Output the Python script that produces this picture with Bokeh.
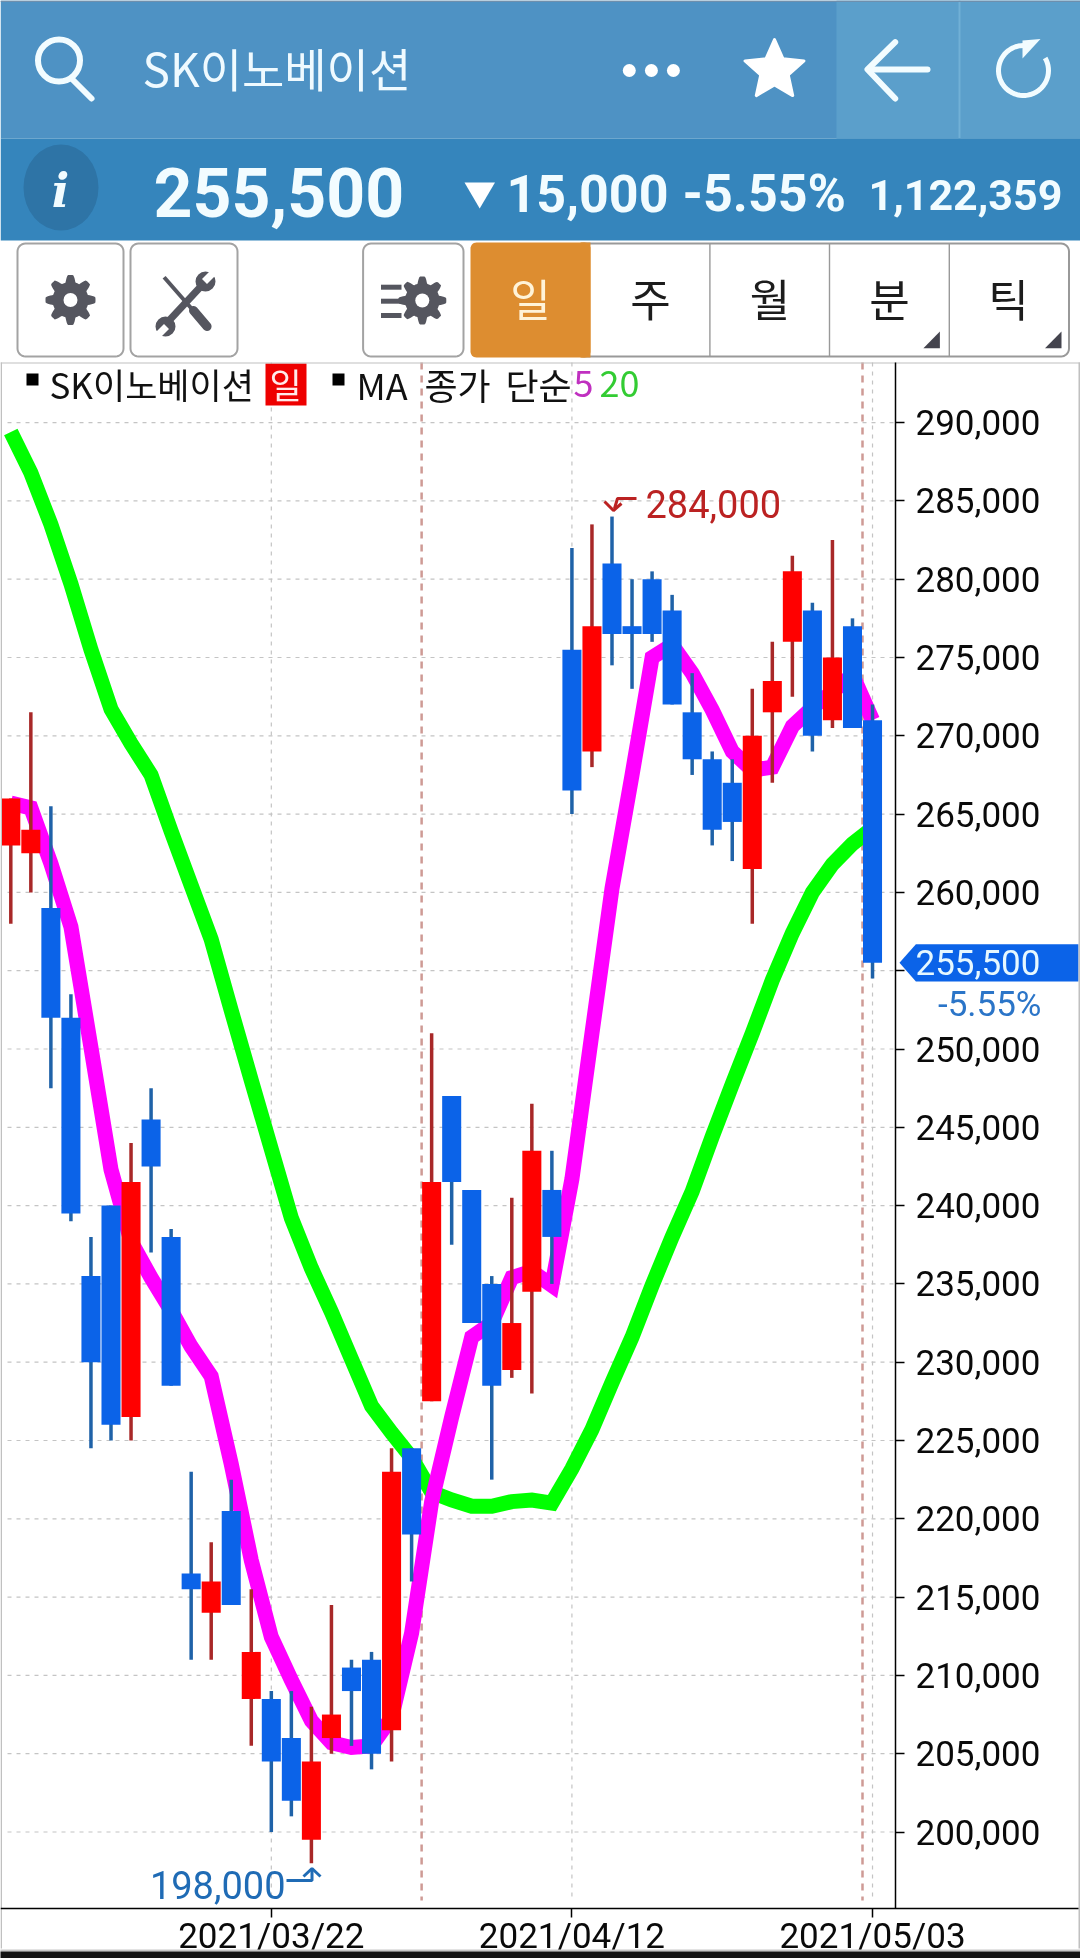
import numpy as np
from bokeh.plotting import figure
from bokeh.embed import file_html
from bokeh.resources import INLINE
from bokeh.core.properties import value
from bokeh.models import (Range1d, FixedTicker, NumeralTickFormatter, Label, LinearAxis,
                          ColumnDataSource)

# ---------- data ----------
opens = [263000, 262500, 259000, 252000, 235500, 240000, 226500, 245500, 238000, 216500, 214000,
         220500, 208500, 208500, 206000, 199500, 206000, 210500, 211000, 206500, 224500, 227500,
         247000, 241000, 235000, 229500, 234500, 241000, 275500, 269000, 281000, 277000, 280000,
         278000, 271500, 268500, 267000, 261500, 271500, 276000, 278000, 271000, 277000, 271000]
closes = [266000, 264000, 252000, 239500, 230000, 226000, 241500, 242500, 228500, 215500, 216000,
          214500, 211500, 204500, 202000, 204500, 207500, 209000, 205000, 223000, 219000, 241500,
          241500, 232500, 228500, 232500, 243500, 238000, 266500, 277000, 276500, 276500, 276500,
          272000, 268500, 264000, 264500, 270000, 273500, 280500, 270000, 275000, 270500, 255500]
highs = [266000, 271500, 265500, 253500, 238000, 240000, 244000, 247500, 238500, 223000, 218500,
         222500, 215500, 209000, 209000, 208000, 214500, 211000, 211500, 224500, 224500, 251000,
         247000, 241000, 235500, 240500, 246500, 243500, 282000, 283500, 284000, 280000, 280500,
         279000, 274000, 269000, 268500, 273000, 276000, 281500, 278500, 282500, 277500, 272000]
lows = [258000, 260000, 247500, 239000, 224500, 225000, 225000, 237000, 228500, 211000, 211000,
        214500, 205500, 200000, 201000, 198000, 205000, 205500, 204000, 204500, 216000, 227500,
        237500, 232500, 222500, 229000, 228000, 235000, 265000, 268000, 274500, 273000, 276000,
        272000, 267500, 263000, 262000, 258000, 267000, 272500, 269000, 270500, 270500, 254500]
ma5 = [265700, 265400, 261850, 257800, 250100, 242300, 237700, 235400, 233300, 231000, 229100,
       223500, 217350, 212450, 209700, 207100, 205700, 205400, 205500, 207300, 212700, 221100,
       226500, 231600, 232500, 235400, 235800, 234900, 241700, 251000, 260250, 267500, 275000,
       275800, 274000, 271650, 269000, 267800, 268000, 270600, 271800, 272800, 273900, 271000]
ma20 = [289400, 286800, 283500, 279700, 275500, 271700, 269500, 267500, 263900, 260450, 257000,
        252460, 248000, 243600, 239200, 236000, 233200, 230200, 227200, 225500, 223900, 221700,
        221200, 220800, 220800, 221100, 221200, 221000, 223200, 225700, 228700, 231600, 234900,
        238000, 240900, 244400, 247750, 251000, 254400, 257400, 260000, 261800, 263100, 264100]
x_tick_pos = [13, 28, 43]
x_tick_labels = ["2021/03/22", "2021/04/12", "2021/05/03"]
y_ticks = list(range(200000, 295000, 5000))
month_breaks = [20.5, 42.5]
last_price = 255500
high_label = "284,000"
low_label = "198,000"
title = "SK이노베이션"

KR = value("Noto Sans CJK KR")
RB = value("Roboto")

# page pixels <-> chart scale
TOP, AXIS_Y, AXIS_X = 362, 1908, 895
PX_V, Y200 = 0.01566, 1831.5   # pixels per won, page y of 200,000
XSTEP, X0 = 20.04, 10.3        # pixels per candle, page x of first candle

def dx(px):
    return (np.asarray(px, dtype=float) - X0) / XSTEP

def dy(py):
    return 200000 + (Y200 - np.asarray(py, dtype=float)) / PX_V

p = figure(width=1080, height=1958, x_range=Range1d(float(dx(0)), float(dx(1080))), y_range=Range1d(float(dy(1958)), float(dy(0))),
           toolbar_location=None, output_backend="svg", x_axis_location=None, y_axis_location=None,
           outline_line_color=None, background_fill_color="white", border_fill_color="white", min_border=0)
p.grid.visible = False

# ---------- header (drawn in page pixels) ----------
def rect(l, t, r, b, c, **kw):
    p.quad(left=[float(dx(l))], right=[float(dx(r))], top=[float(dy(t))], bottom=[float(dy(b))], fill_color=c, line_color=None, **kw)

def pline(xs, ys, color, width, **kw):
    p.line(dx(xs), dy(ys), line_color=color, line_width=width, **kw)

def ppatch(xs, ys, fill, line=None, lw=1, **kw):
    p.patch(dx(xs), dy(ys), fill_color=fill, line_color=line, line_width=lw, **kw)

def txt(x, y, s, size, color="white", font=KR, style="normal", align="left"):
    p.text(x=[float(dx(x))], y=[float(dy(y))], text=[s], text_font=font, text_font_size=f"{size}px", text_color=color,
           text_font_style=style, text_align=align, text_baseline="middle")

def rrect(l, t, r, b, rad, fill, line, lw=2):
    th = np.linspace(0, np.pi / 2, 8)
    xs = np.r_[r - rad + rad * np.sin(th), r - rad + rad * np.cos(th), l + rad - rad * np.sin(th), l + rad - rad * np.cos(th)]
    ys = np.r_[t + rad - rad * np.cos(th), b - rad + rad * np.sin(th), b - rad + rad * np.cos(th), t + rad - rad * np.sin(th)]
    ppatch(xs, ys, fill, line, lw)

def gear(cx, cy, R, hole):
    th = np.linspace(0, 2 * np.pi, 160)
    r = R * (0.86 + 0.14 * np.clip(1.6 * np.cos(8 * th), -1, 1))
    ppatch(cx + r * np.cos(th), cy + r * np.sin(th), "#55565F")
    p.scatter(dx([cx]), dy([cy]), size=hole * 2, fill_color="white", line_color=None)

rect(0, 0, 1080, 138, "#4E92C4")
rect(836, 0, 1080, 138, "#5B9FCB")
rect(958, 0, 960, 138, "#71B0D6")
rect(0, 0, 1080, 1.5, "#6E8FAD")
rect(0, 138, 1080, 240, "#3585BC")

# search
p.scatter(dx([58.5]), dy([60]), size=42, fill_color=None, line_color="#F2FCFF", line_width=6)
pline([71, 91], [78, 98], "#F2FCFF", 6, line_cap="round")
txt(142, 66, title, 46, "#EFFAFF")
p.scatter(dx([628.8, 650.9, 672.9]), dy([70, 70, 70]), size=13, fill_color="white", line_color=None)
# star
ang = -np.pi / 2 + np.arange(10) * np.pi / 5
rad = np.where(np.arange(10) % 2 == 0, 31, 14.5)
ppatch(774 + rad * np.cos(ang), 70 + rad * np.sin(ang), "white", "white", 3, line_join="round")
# back arrow
pline([894.7, 867, 894.7], [41.7, 69, 98], "#F2FCFF", 6, line_cap="round", line_join="round")
pline([868, 927], [69, 69], "#F2FCFF", 6, line_cap="round")
# refresh
th = np.linspace(np.radians(-30), np.radians(270), 50)
pline(1023 + 25 * np.cos(th), 70 + 25 * np.sin(th), "#F2FCFF", 5)
ppatch([1022, 1040, 1022], [40, 38.5, 58], "#F2FCFF")

# info row
p.ellipse(dx([60.5]), dy([187]), width=75 / XSTEP, height=86 / PX_V, fill_color="#2E74A6", line_color=None)
txt(60, 190, "i", 46, "#F2FCFF", value("DejaVu Serif"), "bold italic", "center")
txt(153, 192, "255,500", 68, "#F2FCFF", RB, "bold")
ppatch([464, 494.5, 479.2], [182, 182, 208], "white")
txt(506, 193, "15,000", 52, "#F2FCFF", RB, "bold")
txt(682, 193, "-5.55%", 52, "#F2FCFF", RB, "bold")
txt(868, 194, "1,122,359", 43, "#F2FCFF", RB, "bold")

# buttons
rrect(17, 243, 123, 356, 8, "white", "#A3A3A3")
rrect(130, 243, 237, 356, 8, "white", "#A3A3A3")
rrect(362.6, 243, 463, 356, 8, "white", "#A3A3A3")
gear(70, 299.5, 25, 7)
gear(421.8, 300, 24, 7)
for yy in (286.7, 300.7, 315):
    rect(380.5, yy - 2.5, 401, yy + 2.5, "#55565F")
# tools
D = "#55565F"
pline([163.6, 191], [276.7, 308], D, 4)
pline([193, 206.6], [310, 326], D, 9, line_cap="round")
pline([204, 164], [282, 325], D, 7)
p.scatter(dx([205, 165]), dy([281, 326]), size=20, fill_color=D, line_color=None)
pline([204, 214], [281, 271], "white", 7)
pline([166, 156], [326, 336], "white", 7)

# period tabs
rrect(575, 243, 1068.5, 356, 8, "white", "#999999")
rrect(470, 242, 590, 357, 6, "#DD8D30", None, 0)
rect(580, 242, 590, 357, "#DD8D30")
for xx in (709.4, 829, 948.8):
    rect(xx - 0.7, 243, xx + 0.7, 356, "#999999")
txt(530, 297, "일", 44, "#FFF3D8", KR, "normal", "center")
for xx, s in zip((650, 769.5, 889, 1008), "주월분틱"):
    txt(xx, 297, s, 44, "#1C1C1C", KR, "normal", "center")
for xx in (939.4, 1061):
    ppatch([xx, xx, xx - 16.5], [331, 347.7, 347.7], "#44444E")

# ---------- chart ----------
ax = LinearAxis(fixed_location=float(dx(AXIS_X)), bounds=(float(dy(AXIS_Y)), float(dy(TOP))))
ax.ticker = FixedTicker(ticks=y_ticks)
ax.formatter = NumeralTickFormatter(format="0,0")
ax.major_label_overrides = {255000: ""}   # hidden behind the price tag
bx = LinearAxis(fixed_location=float(dy(AXIS_Y)), bounds=(float(dx(0)), float(dx(1078))))
bx.ticker = FixedTicker(ticks=x_tick_pos)
bx.major_label_overrides = dict(zip(x_tick_pos, x_tick_labels))
for a in (ax, bx):
    a.major_label_text_font = "Roboto"
    a.major_label_text_font_size = "35px"
    a.major_label_text_color = "#0A0A0A"
    a.major_tick_in = 0
    a.major_tick_out = 9
    a.minor_tick_line_color = None
    a.axis_line_color = "black"
    a.axis_line_width = 1.5
    a.major_tick_line_color = "black"
    a.major_tick_line_width = 1.5
ax.major_label_standoff = 11
bx.major_label_standoff = -2
p.add_layout(ax, "right")
p.add_layout(bx, "below")

# dashed grid, from the tick lists; it stops at the axes
ty, by = float(dy(TOP)), float(dy(1900))
GRID = dict(line_color="#C4C4C4", line_dash="4 5", line_width=1.2)
p.segment([float(dx(7))] * len(y_ticks), y_ticks, [float(dx(AXIS_X))] * len(y_ticks), y_ticks, **GRID)
p.segment(x_tick_pos, [ty] * 3, x_tick_pos, [by] * 3, **GRID)
p.segment(month_breaks, [ty] * 2, month_breaks, [by] * 2, line_color="#CE9A95", line_width=2.5, line_dash="7 6")

idx = list(range(len(opens)))
p.line(idx, ma20, line_color="#00FF00", line_width=15, line_join="miter", line_cap="butt")
p.line(idx, ma5, line_color="#FF00FF", line_width=15, line_join="miter", line_cap="butt")

up = [c >= o for o, c in zip(opens, closes)]
src = ColumnDataSource(dict(
    x=idx, top=[max(o, c) for o, c in zip(opens, closes)], bottom=[min(o, c) for o, c in zip(opens, closes)],
    high=highs, low=lows,
    body=["#FF0000" if u else "#0B63E8" for u in up],
    wick=["#A82828" if u else "#1F62A8" for u in up]))
p.segment("x", "high", "x", "low", source=src, line_color="wick", line_width=3.5)
p.vbar("x", width=0.95, top="top", bottom="bottom", source=src, fill_color="body", line_color=None)

# high / low markers
RED_T, BLUE_T = "#BB2222", "#1F6BB5"
pline([636, 617, 614], [498, 498, 508], RED_T, 3)
pline([604, 613, 621], [501, 510, 503], RED_T, 3)
pline([286, 311.5, 311.5], [1880, 1880, 1868], BLUE_T, 3)
pline([303, 311.5, 320], [1876, 1868, 1876], BLUE_T, 3)
p.add_layout(Label(x=float(dx(645)), y=float(dy(503)), text=high_label, text_color=RED_T, text_font_size="38px", text_font="Roboto",
                   text_baseline="middle", text_align="left"))
p.add_layout(Label(x=float(dx(285)), y=float(dy(1884)), text=low_label, text_color=BLUE_T, text_font_size="38px", text_font="Roboto",
                   text_baseline="middle", text_align="right"))

# legend
def leg(x, s, color="#111111", size=36):
    p.add_layout(Label(x=float(dx(x)), y=float(dy(383)), text=s, text_color=color, text_font_size=f"{size}px", text_font="Noto Sans CJK KR",
                       text_baseline="middle", text_align="left"))

rect(26, 373, 38, 385, "black")
rect(332, 373, 344, 385, "black")
rect(265, 363, 306, 405, "#EE0000")
leg(49, title, size=35)
leg(269, "일", "#FFE9E9", 35)
leg(356, "MA")
leg(424, "종가")
leg(505, "단순")
leg(573, "5", "#C030C0")
leg(599, "20", "#33CC33")

# price tag on the price scale
tip = last_price
hh = 18.7 / PX_V
p.patch(dx([899, 915.4, 1078, 1078, 915.4]), [tip, tip + hh, tip + hh, tip - hh, tip - hh],
        fill_color="#0B63E8", line_color=None)
p.add_layout(Label(x=float(dx(915)), y=tip, text="255,500", text_color="#E6F8FF", text_font_size="35px",
                   text_font="Roboto", text_baseline="middle", text_align="left"))
p.add_layout(Label(x=float(dx(1041)), y=tip - 42 / PX_V, text="-5.55%", text_color="#2B75C8", text_font_size="35px",
                   text_font="Roboto", text_baseline="middle", text_align="right"))

# page frame lines
rect(0, 362, 1080, 363, "#C0C0C0")
rect(0, 362, 1.5, 1948, "#C0C0C0")
rect(1078, 362, 1080, 1948, "#C0C0C0")
rect(0, 1949, 1080, 1951, "#C8C8C8", level="overlay")
rect(0, 1951, 1080, 1958, "#151515", level="overlay")

p.styles = {"position": "fixed", "left": "0px", "top": "0px"}
open("out.html", "w").write(file_html(p, INLINE))
